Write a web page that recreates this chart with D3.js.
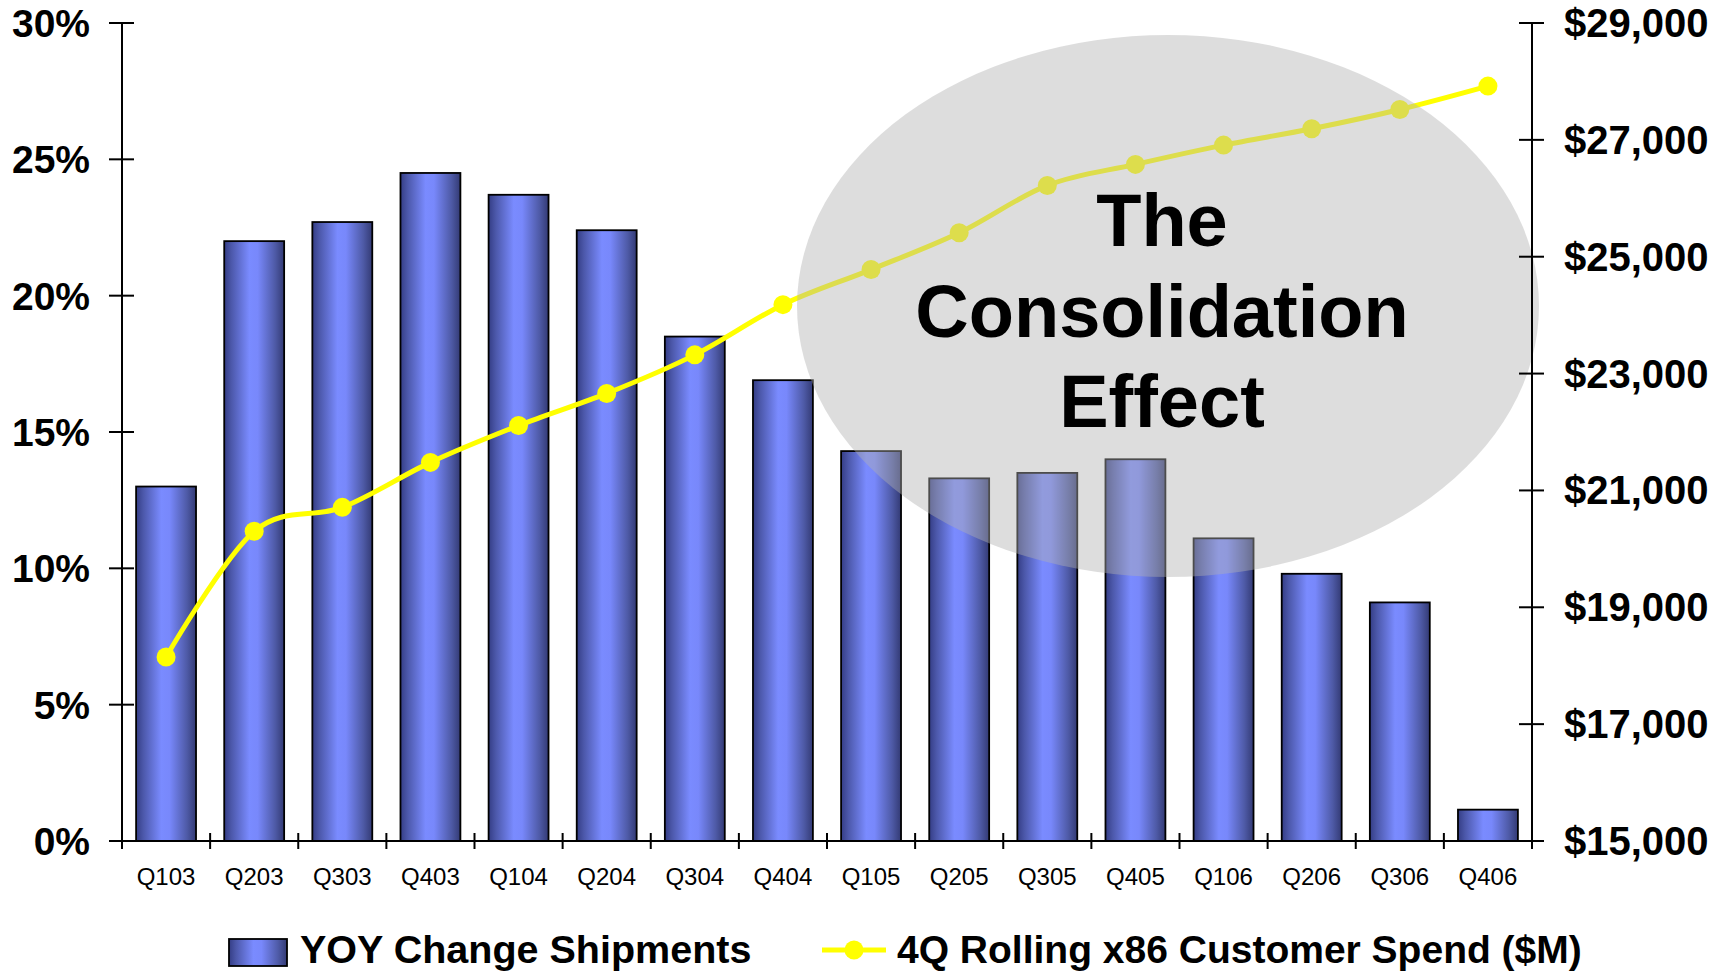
<!DOCTYPE html>
<html>
<head>
<meta charset="utf-8">
<script src="https://cdn.jsdelivr.net/npm/d3@7"></script>
<style>
  html, body { margin: 0; padding: 0; background: #fff; }
  svg { display: block; font-family: "Liberation Sans", Arial, sans-serif; }
</style>
</head>
<body>
<svg id="chart" width="1729" height="973"></svg>
<script>
const categories = ["Q103","Q203","Q303","Q403","Q104","Q204","Q304","Q404","Q105","Q205","Q305","Q405","Q106","Q206","Q306","Q406"];
const yoyChange = [13.0, 22.0, 22.7, 24.5, 23.7, 22.4, 18.5, 16.9, 14.3, 13.3, 13.5, 14.0, 11.1, 9.8, 8.75, 1.15];
const customerSpend = [18150, 20300, 20710, 21480, 22110, 22660, 23320, 24180, 24780, 25410, 26220, 26580, 26910, 27190, 27520, 27920];
const leftTicks = [0, 5, 10, 15, 20, 25, 30];
const rightTicks = [15000, 17000, 19000, 21000, 23000, 25000, 27000, 29000];
const seriesNames = ["YOY Change Shipments", "4Q Rolling x86 Customer Spend ($M)"];
const calloutLines = ["The", "Consolidation", "Effect"];

const svg = d3.select("#chart");
const L = 122, R = 1532, T = 23, B = 841;

const x = d3.scaleBand().domain(categories).range([L, R]).paddingInner(0.32).paddingOuter(0.16);
const yL = d3.scaleLinear().domain([0, 30]).range([B, T]);
const yR = d3.scaleLinear().domain([15000, 29000]).range([B, T]);

const defs = svg.append("defs");
const grad = defs.append("linearGradient").attr("id", "barGrad").attr("x1", "0").attr("x2", "1").attr("y1", "0").attr("y2", "0");
[[0, "#343d85"], [0.12, "#4c58aa"], [0.42, "#7a8bff"], [0.56, "#7888fb"], [0.85, "#4e5aa6"], [1, "#333a74"]]
  .forEach(([o, c]) => grad.append("stop").attr("offset", o).attr("stop-color", c));

// Bars
svg.append("g").selectAll("rect").data(categories).join("rect")
  .attr("x", d => x(d))
  .attr("width", x.bandwidth())
  .attr("y", (d, i) => yL(yoyChange[i]))
  .attr("height", (d, i) => yL(0) - yL(yoyChange[i]))
  .attr("fill", "url(#barGrad)")
  .attr("stroke", "#000").attr("stroke-width", 1.8);

// Line
const cx = d => x(d) + x.bandwidth() / 2;
const line = d3.line().x(d => cx(d)).y((d, i) => yR(customerSpend[i])).curve(d3.curveCardinal.tension(0));
svg.append("path").datum(categories).attr("d", line)
  .attr("fill", "none").attr("stroke", "#ffff00").attr("stroke-width", 5).attr("stroke-linejoin", "round");
svg.append("g").selectAll("circle").data(categories).join("circle")
  .attr("cx", d => cx(d)).attr("cy", (d, i) => yR(customerSpend[i])).attr("r", 9.5)
  .attr("fill", "#ffff00");

// Callout ellipse
svg.append("ellipse").attr("cx", 1168).attr("cy", 306).attr("rx", 371).attr("ry", 271)
  .attr("fill", "#b0b0b0").attr("fill-opacity", 0.43);
svg.append("g").selectAll("text").data(calloutLines).join("text")
  .attr("x", 1162).attr("y", (d, i) => 246 + i * 90.5)
  .attr("text-anchor", "middle").attr("font-weight", "bold").attr("font-size", 74)
  .attr("fill", "#000").text(d => d);

// Axes
const axisG = svg.append("g").attr("stroke", "#000").attr("stroke-width", 2);
axisG.append("line").attr("x1", L).attr("x2", L).attr("y1", T).attr("y2", B);
axisG.append("line").attr("x1", R).attr("x2", R).attr("y1", T).attr("y2", B);
axisG.append("line").attr("x1", L).attr("x2", R).attr("y1", B).attr("y2", B);

// left ticks
svg.append("g").selectAll("line").data(leftTicks).join("line")
  .attr("x1", L - 13).attr("x2", L + 12).attr("y1", d => yL(d)).attr("y2", d => yL(d))
  .attr("stroke", "#000").attr("stroke-width", 2);
svg.append("g").selectAll("text").data(leftTicks).join("text")
  .attr("x", 90).attr("y", d => yL(d) + 14).attr("text-anchor", "end")
  .attr("font-weight", "bold").attr("font-size", 39).text(d => d + "%");

// right ticks
const fmt = d3.format(",");
svg.append("g").selectAll("line").data(rightTicks).join("line")
  .attr("x1", R - 13).attr("x2", R + 12).attr("y1", d => yR(d)).attr("y2", d => yR(d))
  .attr("stroke", "#000").attr("stroke-width", 2);
svg.append("g").selectAll("text").data(rightTicks).join("text")
  .attr("x", 1564).attr("y", d => yR(d) + 14).attr("text-anchor", "start")
  .attr("font-weight", "bold").attr("font-size", 40).text(d => "$" + fmt(d));

// x ticks at band boundaries
const bounds = categories.map((d, i) => L + i * (R - L) / categories.length).concat([R]);
svg.append("g").selectAll("line").data(bounds).join("line")
  .attr("x1", d => d).attr("x2", d => d).attr("y1", B - 8).attr("y2", B + 8)
  .attr("stroke", "#000").attr("stroke-width", 2);
svg.append("g").selectAll("text").data(categories).join("text")
  .attr("x", d => cx(d)).attr("y", 885).attr("text-anchor", "middle")
  .attr("font-size", 24).text(d => d);

// Legend
const lg = svg.append("g");
lg.append("rect").attr("x", 229).attr("y", 939).attr("width", 58).attr("height", 27)
  .attr("fill", "url(#barGrad)").attr("stroke", "#000").attr("stroke-width", 1.8);
lg.append("text").attr("x", 300).attr("y", 963).attr("font-weight", "bold").attr("font-size", 39.5).text(seriesNames[0]);
lg.append("line").attr("x1", 822).attr("x2", 886).attr("y1", 950).attr("y2", 950)
  .attr("stroke", "#ffff00").attr("stroke-width", 5);
lg.append("circle").attr("cx", 854).attr("cy", 950).attr("r", 9.5).attr("fill", "#ffff00");
lg.append("text").attr("x", 897).attr("y", 963).attr("font-weight", "bold").attr("font-size", 39).text(seriesNames[1]);
</script>
</body>
</html>
